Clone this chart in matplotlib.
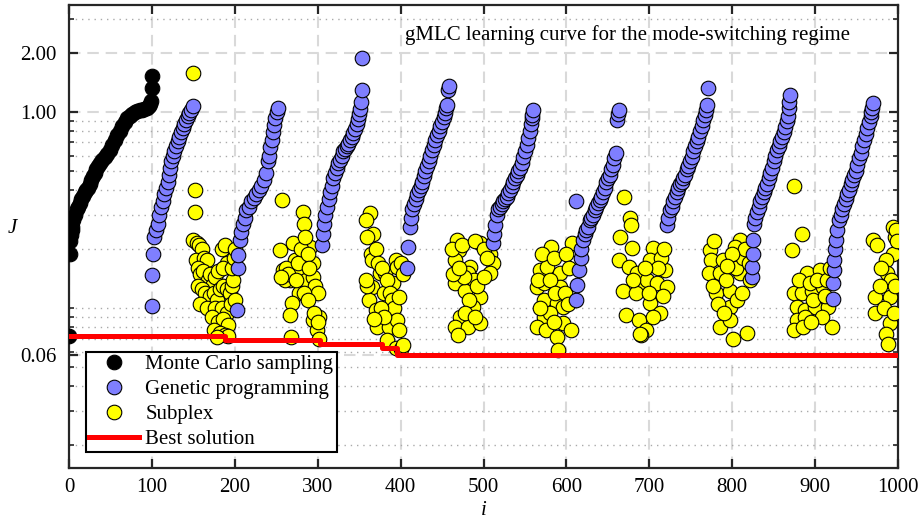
import matplotlib.pyplot as plt
from matplotlib.ticker import FixedLocator, NullFormatter

plt.rcParams['font.family'] = ['Liberation Serif', 'DejaVu Serif']
plt.rcParams['font.size'] = 15

# Monte Carlo sampling (first generation, sorted by cost)
mc_i = [0, 1, 1, 2, 3, 4, 5, 7, 9, 11, 13, 15, 17, 19, 21, 23, 25, 27, 29, 31, 33, 35,
        37, 40, 43, 46, 49, 52, 55, 58, 61, 64, 67, 70, 73, 76, 79, 82, 85, 88, 91,
        94, 96, 98, 99, 100, 100]
mc_J = [0.072, 0.19, 0.22, 0.235, 0.25, 0.26, 0.28, 0.30, 0.32, 0.33, 0.345, 0.36,
        0.375, 0.39, 0.40, 0.41, 0.43, 0.45, 0.47, 0.49, 0.51, 0.53, 0.55, 0.57, 0.59,
        0.61, 0.64, 0.68, 0.72, 0.76, 0.80, 0.85, 0.89, 0.93, 0.96, 0.98, 1.0, 1.01,
        1.02, 1.03, 1.04, 1.05, 1.07, 1.10, 1.14, 1.33, 1.52]

# Genetic programming individuals, generation by generation
gp_i = [
    # gen 1
    100, 100, 101, 103, 105, 107, 109, 111, 113, 115, 117, 119, 121, 122, 123, 125,
    127, 129, 131, 133, 135, 137, 139, 141, 143, 145, 147, 149,
    # gen 2
    203, 204, 204, 206, 208, 210, 212, 214, 217, 220, 223, 226, 229, 232, 235, 238,
    240, 241, 243, 245, 246, 247, 249, 251, 252,
    # gen 3
    305, 306, 307, 309, 311, 313, 315, 317, 319, 321, 323, 325, 327, 329, 331, 333,
    335, 337, 339, 341, 343, 345, 347, 349, 350, 351, 352, 353, 354,
    # gen 4
    408, 409, 411, 412, 414, 416, 418, 420, 422, 424, 426, 428, 430, 432, 434, 436,
    438, 440, 442, 444, 446, 448, 450, 452, 454, 455, 456, 457, 458,
    # gen 5
    512, 513, 514, 516, 518, 520, 522, 524, 526, 528, 530, 532, 534, 536, 538, 540,
    542, 544, 546, 548, 550, 552, 554, 556, 557, 558, 559, 560,
    # gen 6
    611, 612, 613, 615, 617, 618, 620, 622, 624, 626, 628, 630, 632, 634, 636, 638,
    640, 642, 644, 646, 648, 650, 652, 654, 656, 658, 660, 661, 662, 663,
    # gen 7
    721, 723, 725, 727, 729, 731, 733, 735, 737, 739, 741, 743, 745, 747, 749, 751,
    753, 755, 757, 759, 761, 763, 765, 767, 768, 769, 771,
    # gen 8
    824, 824, 825, 825, 826, 828, 830, 832, 834, 836, 838, 840, 842, 844, 846, 848,
    850, 852, 854, 856, 858, 860, 862, 864, 866, 867, 868, 869, 870,
    # gen 9
    922, 922, 923, 923, 924, 925, 927, 929, 931, 933, 935, 937, 939, 941, 943, 945,
    947, 949, 951, 953, 955, 957, 959, 961, 963, 965, 967, 968, 969, 970,
]
gp_J = [
    # gen 1
    0.103, 0.147, 0.19, 0.23, 0.25, 0.27, 0.30, 0.33, 0.35, 0.38, 0.41, 0.44, 0.48,
    0.52, 0.56, 0.60, 0.63, 0.67, 0.71, 0.75, 0.79, 0.83, 0.87, 0.91, 0.95, 0.99,
    1.03, 1.07,
    # gen 2
    0.098, 0.16, 0.186, 0.222, 0.245, 0.27, 0.29, 0.315, 0.33, 0.35, 0.365, 0.38,
    0.40, 0.42, 0.45, 0.49, 0.56, 0.60, 0.66, 0.72, 0.79, 0.86, 0.93, 1.0, 1.05,
    # gen 3
    0.21, 0.24, 0.27, 0.30, 0.33, 0.36, 0.39, 0.42, 0.46, 0.49, 0.52, 0.55, 0.57,
    0.60, 0.63, 0.65, 0.67, 0.69, 0.72, 0.75, 0.78, 0.82, 0.87, 0.92, 0.98, 1.04,
    1.12, 1.30, 1.88,
    # gen 4
    0.16, 0.205, 0.26, 0.29, 0.32, 0.34, 0.36, 0.38, 0.40, 0.42, 0.44, 0.47, 0.50,
    0.53, 0.56, 0.60, 0.64, 0.68, 0.72, 0.76, 0.80, 0.85, 0.89, 0.94, 0.99, 1.05,
    1.09, 1.30, 1.36,
    # gen 5
    0.215, 0.24, 0.265, 0.30, 0.32, 0.33, 0.34, 0.35, 0.36, 0.37, 0.385, 0.40, 0.42,
    0.44, 0.46, 0.48, 0.50, 0.52, 0.55, 0.59, 0.63, 0.68, 0.74, 0.80, 0.87, 0.93,
    0.97, 1.03,
    # gen 6
    0.35, 0.11, 0.131, 0.156, 0.18, 0.20, 0.222, 0.24, 0.25, 0.26, 0.28, 0.29, 0.30,
    0.316, 0.33, 0.345, 0.355, 0.37, 0.39, 0.41, 0.44, 0.46, 0.48, 0.51, 0.54, 0.58,
    0.62, 0.91, 0.98, 1.02,
    # gen 7
    0.265, 0.29, 0.316, 0.33, 0.35, 0.37, 0.39, 0.41, 0.43, 0.44, 0.46, 0.48, 0.51,
    0.53, 0.56, 0.59, 0.63, 0.67, 0.71, 0.75, 0.80, 0.85, 0.91, 0.97, 1.02, 1.09,
    1.32,
    # gen 8
    0.144, 0.162, 0.19, 0.222, 0.27, 0.29, 0.31, 0.33, 0.35, 0.37, 0.39, 0.41, 0.43,
    0.46, 0.49, 0.52, 0.56, 0.60, 0.64, 0.67, 0.71, 0.75, 0.79, 0.84, 0.90, 0.96,
    1.05, 1.13, 1.22,
    # gen 9
    0.112, 0.134, 0.156, 0.176, 0.20, 0.222, 0.25, 0.28, 0.30, 0.32, 0.34, 0.36, 0.38,
    0.40, 0.43, 0.45, 0.48, 0.50, 0.54, 0.58, 0.62, 0.67, 0.72, 0.77, 0.83, 0.89,
    0.95, 1.0, 1.05, 1.11,
]

# Subplex evaluations between generations
sp_i = [
    150, 152, 152, 150, 154, 157, 160, 153, 163, 166, 155, 158, 162, 168, 170, 172,
    176, 180, 185, 188, 190, 186, 156, 160, 164, 170, 175, 178, 182, 186, 190, 194,
    197, 198, 196, 199, 200, 158, 166, 176, 184, 190, 195, 200, 172, 180, 186, 192,
    175, 182, 188, 192, 178,
    257, 282, 284, 254, 270, 272, 291, 294, 258, 266, 278, 286, 294, 278, 294, 269,
    267, 294, 302, 299, 268, 302, 260, 262, 264, 274, 276, 280, 285, 288, 290, 297,
    300, 283, 288, 256, 296, 300,
    363, 358, 367, 360, 364, 366, 375, 381, 391, 366, 380, 362, 370, 372, 386, 384,
    370, 373, 377, 383, 387, 389, 392, 395, 396, 398, 396, 398, 394, 400, 403, 376,
    380, 368, 360, 358, 400, 403,
    468, 470, 496, 508, 466, 484, 466, 481, 489, 512, 508, 478, 496, 487, 472, 466,
    481, 496, 469, 462, 474, 490, 500, 504, 476, 492, 500, 463, 470, 483, 478, 490,
    582, 607, 568, 577, 592, 564, 573, 592, 573, 589, 596, 573, 564, 575, 596, 589,
    590, 605, 570, 585, 600, 603, 566, 580, 586, 598, 602, 580, 585, 568,
    669, 677, 678, 665, 679, 663, 675, 685, 693, 668, 684, 672, 688, 696, 690, 705,
    701, 719, 697, 709, 721, 701, 713, 705, 689, 680, 714, 718, 710, 695, 700, 716,
    773, 775, 789, 809, 803, 772, 785, 781, 797, 809, 797, 785, 797, 801, 818, 821,
    777, 792, 805, 813, 816, 783, 790, 806, 812, 778, 800, 794, 820,
    874, 884, 872, 890, 906, 874, 884, 896, 910, 878, 888, 900, 878, 888, 874, 920,
    916, 880, 894, 902, 914, 918, 898, 908, 885, 895, 912,
    970, 975, 994, 996, 994, 985, 987, 972, 990, 972, 990, 985, 988, 998, 999, 980,
    992, 978, 996, 983, 995,
]
sp_J = [
    1.58, 0.40, 0.31, 0.222, 0.215, 0.21, 0.20, 0.176, 0.18, 0.176, 0.16, 0.15, 0.155,
    0.14, 0.15, 0.13, 0.145, 0.155, 0.20, 0.21, 0.17, 0.16, 0.13, 0.125, 0.12, 0.115,
    0.12, 0.11, 0.125, 0.13, 0.125, 0.12, 0.13, 0.14, 0.16, 0.18, 0.20, 0.105, 0.10,
    0.10, 0.10, 0.095, 0.105, 0.11, 0.09, 0.085, 0.088, 0.082, 0.077, 0.075, 0.073,
    0.072, 0.071,
    0.356, 0.31, 0.27, 0.198, 0.215, 0.176, 0.205, 0.17, 0.156, 0.139, 0.156, 0.139,
    0.144, 0.119, 0.119, 0.106, 0.092, 0.087, 0.09, 0.077, 0.0714, 0.070, 0.14, 0.16,
    0.15, 0.14, 0.17, 0.20, 0.23, 0.19, 0.16, 0.13, 0.12, 0.12, 0.11, 0.145, 0.095,
    0.085,
    0.305, 0.28, 0.24, 0.23, 0.19, 0.176, 0.151, 0.151, 0.134, 0.128, 0.119, 0.11,
    0.098, 0.08, 0.08, 0.069, 0.20, 0.17, 0.16, 0.14, 0.12, 0.11, 0.10, 0.176, 0.162,
    0.114, 0.087, 0.077, 0.0625, 0.062, 0.065, 0.10, 0.09, 0.088, 0.13, 0.14, 0.17,
    0.15,
    0.222, 0.198, 0.215, 0.19, 0.176, 0.162, 0.134, 0.151, 0.139, 0.17, 0.151, 0.123,
    0.114, 0.101, 0.09, 0.08, 0.08, 0.084, 0.073, 0.20, 0.21, 0.22, 0.20, 0.18, 0.145,
    0.13, 0.145, 0.15, 0.16, 0.11, 0.095, 0.09,
    0.205, 0.215, 0.156, 0.162, 0.151, 0.128, 0.134, 0.128, 0.11, 0.106, 0.101, 0.09,
    0.08, 0.077, 0.084, 0.0714, 0.0614, 0.077, 0.19, 0.18, 0.19, 0.16, 0.14, 0.14,
    0.12, 0.12, 0.105, 0.095, 0.085, 0.10,
    0.37, 0.29, 0.265, 0.23, 0.203, 0.176, 0.162, 0.151, 0.128, 0.123, 0.119, 0.092,
    0.087, 0.077, 0.073, 0.203, 0.176, 0.156, 0.14, 0.134, 0.128, 0.106, 0.094, 0.09,
    0.074, 0.14, 0.18, 0.20, 0.16, 0.16, 0.12, 0.115,
    0.198, 0.176, 0.176, 0.222, 0.205, 0.151, 0.151, 0.119, 0.123, 0.151, 0.101, 0.08,
    0.087, 0.070, 0.075, 0.139, 0.13, 0.14, 0.16, 0.18, 0.20, 0.105, 0.095, 0.11,
    0.12, 0.22, 0.19, 0.165, 0.17,
    0.42, 0.24, 0.198, 0.151, 0.156, 0.119, 0.119, 0.123, 0.128, 0.101, 0.098, 0.101,
    0.087, 0.09, 0.077, 0.08, 0.101, 0.14, 0.135, 0.14, 0.14, 0.16, 0.11, 0.09, 0.08,
    0.085, 0.115,
    0.222, 0.21, 0.26, 0.23, 0.19, 0.176, 0.151, 0.114, 0.114, 0.094, 0.084, 0.074,
    0.066, 0.25, 0.22, 0.16, 0.14, 0.13, 0.13, 0.10, 0.095,
]

# Best cost found so far
best_i = [0, 188, 303, 378, 396, 1000]
best_J = [0.072, 0.0688, 0.066, 0.0625, 0.0576, 0.0576]

# y-axis marks
ytick_vals = [0.0576, 1.0, 2.0]
ytick_labels = ['0.06', '1.00', '2.00']
yminor_vals = [0.02, 0.03, 0.04, 0.05, 0.06, 0.07, 0.08, 0.09, 0.1, 0.2, 0.3, 0.4,
               0.5, 0.6, 0.7, 0.8, 0.9, 3.0]

fig = plt.figure(figsize=(9.23, 5.24), dpi=100)
ax = fig.add_axes([0.0748, 0.1069, 0.8981, 0.8836])

mk = dict(linestyle='none', marker='o', markersize=10.5, markeredgecolor='black',
          markeredgewidth=0.8)
ax.plot(sp_i, sp_J, color='#FFFF00', markerfacecolor='#FFFF00', zorder=3,
        label='Subplex', **mk)
ax.plot(gp_i, gp_J, color='#7F7FFF', markerfacecolor='#7F7FFF', zorder=4,
        label='Genetic programming', **mk)
ax.plot(mc_i, mc_J, color='black', markerfacecolor='black', zorder=4,
        label='Monte Carlo sampling', **mk)
ax.plot(best_i, best_J, color='#FF0000', linewidth=3.6, drawstyle='steps-post',
        zorder=5, label='Best solution')

ax.set_yscale('log')
ax.set_xlim(0, 1000)
ax.set_ylim(0.0153, 3.52)
ax.set_xticks(range(0, 1001, 100))
ax.yaxis.set_major_locator(FixedLocator(ytick_vals))
ax.set_yticklabels(ytick_labels)
ax.yaxis.set_minor_locator(FixedLocator(yminor_vals))
ax.yaxis.set_minor_formatter(NullFormatter())

ax.grid(True, which='major', color='#D9D9D9', linewidth=1.5,
        linestyle=(0, (5.5, 3.3)), zorder=0)
ax.grid(True, which='minor', axis='y', color='#AAAAAA', linewidth=1.0,
        linestyle=(0, (1, 3.5)), zorder=0)
ax.set_axisbelow(True)

ax.tick_params(which='both', direction='in', top=True, right=True, colors='#262626',
               labelcolor='black')
ax.tick_params(which='major', length=6.5, width=1.6, pad=7)
ax.tick_params(axis='y', which='major', pad=9)
ax.tick_params(which='minor', length=3.5, width=1.2)
for s in ax.spines.values():
    s.set_linewidth(1.6)
    s.set_color('#262626')

ax.set_xlabel('i', fontstyle='italic')
ax.set_ylabel('J', fontstyle='italic', rotation=0)
ax.xaxis.set_label_coords(0.5, -0.072)
ax.yaxis.set_label_coords(-0.069, 0.497)

ax.text(0.942, 0.935, 'gMLC learning curve for the mode-switching regime',
        transform=ax.transAxes, ha='right', va='center')

h, l = ax.get_legend_handles_labels()
order = [2, 1, 0, 3]
leg = ax.legend([h[k] for k in order], [l[k] for k in order], loc='lower left',
                bbox_to_anchor=(0.0205, 0.0346), fancybox=False, framealpha=1,
                edgecolor='black', borderpad=0.15, labelspacing=0.25,
                handlelength=2.4, handletextpad=0.3, borderaxespad=0)
leg.get_frame().set_linewidth(1.5)
leg.set_zorder(10)

fig.savefig('out.png', dpi=100)
